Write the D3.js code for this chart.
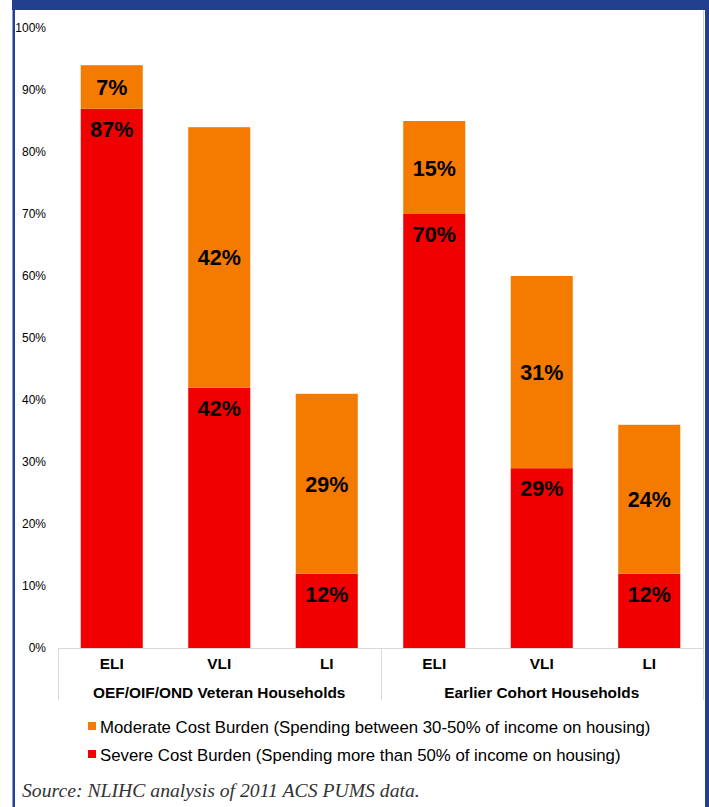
<!DOCTYPE html>
<html>
<head>
<meta charset="utf-8">
<script src="https://cdn.jsdelivr.net/npm/d3@7"></script>
<style>
  html, body { margin: 0; padding: 0; background: #fff; }
  svg { display: block; }
</style>
</head>
<body>
<svg id="chart" width="709" height="807"></svg>
<script>
// Cost burden among renter households, by income level and cohort
const groups = ["OEF/OIF/OND Veteran Households", "Earlier Cohort Households"];
const incomeLevels = ["ELI", "VLI", "LI"];
const severe = [87, 42, 12, 70, 29, 12];
const moderate = [7, 42, 29, 15, 31, 24];
const yTicks = [0, 10, 20, 30, 40, 50, 60, 70, 80, 90, 100];
const seriesNames = [
  "Moderate Cost Burden (Spending between 30-50% of income on housing)",
  "Severe Cost Burden (Spending more than 50% of income on housing)"
];
const sourceNote = "Source: NLIHC analysis of 2011 ACS PUMS data.";

const colors = { moderate: "#F47B00", severe: "#F00000" };

// one row per bar: group + income level
const rows = [];
groups.forEach((g, gi) => incomeLevels.forEach((lvl, li) => {
  const i = gi * incomeLevels.length + li;
  rows.push({ key: gi + "-" + lvl, group: g, level: lvl, severe: severe[i], moderate: moderate[i] });
}));

const stacked = d3.stack().keys(["severe", "moderate"])(rows);

const svg = d3.select("#chart");
const sans = "Liberation Sans, Arial, sans-serif";

// frame: dark blue banner on top, rules on both sides
const frameBlue = "#233F8F";
svg.append("rect").attr("x", 12).attr("y", 0).attr("width", 697).attr("height", 10).attr("fill", frameBlue);
svg.append("rect").attr("x", 12.5).attr("y", 0).attr("width", 2.5).attr("height", 807).attr("fill", frameBlue);
svg.append("rect").attr("x", 705).attr("y", 0).attr("width", 4).attr("height", 807).attr("fill", frameBlue);
svg.append("line").attr("x1", 703.5).attr("x2", 703.5).attr("y1", 10).attr("y2", 700)
  .attr("stroke", "#cfcfcf").attr("stroke-width", 1);

const plot = { left: 58, right: 703, top: 28, bottom: 648 };

const x = d3.scaleBand()
  .domain(rows.map(d => d.key))
  .range([plot.left, plot.right])
  .paddingInner(0.423)
  .paddingOuter(0.2115);

const y = d3.scaleLinear().domain([0, 100]).range([plot.bottom, plot.top]);

// y axis tick labels (no axis line)
const yAxis = d3.axisLeft(y)
  .tickValues(yTicks)
  .tickFormat(d => d + "%")
  .tickSize(0)
  .tickPadding(0);
const yg = svg.append("g").attr("transform", "translate(46,0)").call(yAxis);
yg.select(".domain").remove();
yg.selectAll("text")
  .attr("font-family", sans)
  .attr("font-size", 12)
  .attr("fill", "#000");

// stacked bars
const layer = svg.append("g").selectAll("g")
  .data(stacked)
  .join("g")
  .attr("fill", d => colors[d.key]);

layer.selectAll("rect")
  .data(d => d)
  .join("rect")
  .attr("x", d => x(d.data.key))
  .attr("width", x.bandwidth())
  .attr("y", d => y(d[1]))
  .attr("height", d => y(d[0]) - y(d[1]));

// value labels: severe near top of its segment, moderate centered
const labels = svg.append("g")
  .attr("font-family", sans)
  .attr("font-weight", "bold")
  .attr("font-size", 21.5)
  .attr("fill", "#000")
  .attr("text-anchor", "middle");

labels.selectAll("text.sev")
  .data(stacked[0])
  .join("text")
  .attr("class", "sev")
  .attr("x", d => x(d.data.key) + x.bandwidth() / 2)
  .attr("y", d => y(d[1]) + 28)
  .text(d => d.data.severe + "%");

labels.selectAll("text.mod")
  .data(stacked[1])
  .join("text")
  .attr("class", "mod")
  .attr("x", d => x(d.data.key) + x.bandwidth() / 2)
  .attr("y", d => (y(d[0]) + y(d[1])) / 2 + 8)
  .text(d => d.data.moderate + "%");

// category axis: baseline and group dividers
const axisGray = "#d9d9d9";
svg.append("line")
  .attr("x1", plot.left).attr("x2", plot.right)
  .attr("y1", plot.bottom + 0.5).attr("y2", plot.bottom + 0.5)
  .attr("stroke", axisGray);

const groupSpan = x.step() * incomeLevels.length;
const dividers = [plot.left, plot.left + groupSpan, plot.right];
svg.append("g").selectAll("line")
  .data(dividers)
  .join("line")
  .attr("x1", d => Math.round(d) + 0.5).attr("x2", d => Math.round(d) + 0.5)
  .attr("y1", plot.bottom).attr("y2", 700)
  .attr("stroke", axisGray);

// income level labels
svg.append("g").selectAll("text")
  .data(rows)
  .join("text")
  .attr("x", d => x(d.key) + x.bandwidth() / 2)
  .attr("y", 669)
  .attr("text-anchor", "middle")
  .attr("font-family", sans)
  .attr("font-weight", "bold")
  .attr("font-size", 15.4)
  .text(d => d.level);

// group labels
svg.append("g").selectAll("text")
  .data(groups)
  .join("text")
  .attr("x", (d, i) => plot.left + groupSpan * i + groupSpan / 2)
  .attr("y", 698)
  .attr("text-anchor", "middle")
  .attr("font-family", sans)
  .attr("font-weight", "bold")
  .attr("font-size", 15.4)
  .text(d => d);

// legend
const legend = svg.append("g").attr("transform", "translate(88,0)");
const legendItems = [
  { name: seriesNames[0], color: colors.moderate, y: 727 },
  { name: seriesNames[1], color: colors.severe, y: 755 }
];
legend.selectAll("rect")
  .data(legendItems)
  .join("rect")
  .attr("x", 0).attr("y", d => d.y - 5)
  .attr("width", 8).attr("height", 8)
  .attr("fill", d => d.color);
legend.selectAll("text")
  .data(legendItems)
  .join("text")
  .attr("x", 12).attr("y", d => d.y + 6)
  .attr("font-family", sans)
  .attr("font-size", 16.8)
  .attr("fill", "#000")
  .text(d => d.name);

// source note
svg.append("text")
  .attr("x", 22).attr("y", 797)
  .attr("font-family", "Liberation Serif, 'Times New Roman', serif")
  .attr("font-style", "italic")
  .attr("font-size", 19.7)
  .attr("fill", "#333")
  .text(sourceNote);
</script>
</body>
</html>
